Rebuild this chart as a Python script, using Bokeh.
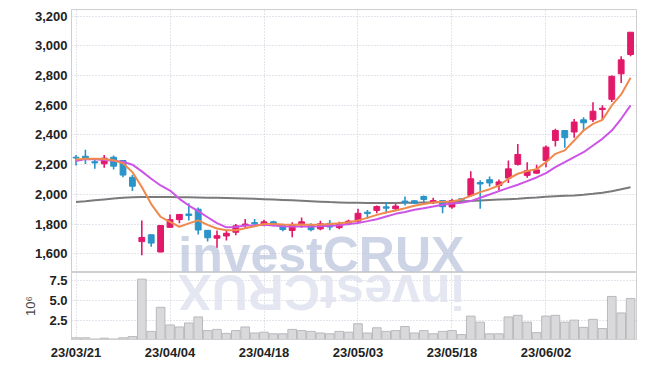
import numpy as np
from bokeh.plotting import figure
from bokeh.layouts import column
from bokeh.models import ColumnDataSource, FixedTicker, Range1d, NumeralTickFormatter
from bokeh.core.properties import value
from bokeh.embed import file_html
from bokeh.resources import INLINE

# ---- data (trading days) ----
dates = ["23/03/21", "23/03/22", "23/03/23", "23/03/24", "23/03/27", "23/03/28", "23/03/29", "23/03/30", "23/03/31",
         "23/04/03", "23/04/04", "23/04/05", "23/04/06", "23/04/07", "23/04/10", "23/04/11", "23/04/12", "23/04/13",
         "23/04/14", "23/04/17", "23/04/18", "23/04/19", "23/04/20", "23/04/21", "23/04/24", "23/04/25", "23/04/26",
         "23/04/27", "23/04/28", "23/05/02", "23/05/03", "23/05/04", "23/05/08", "23/05/09", "23/05/10", "23/05/11",
         "23/05/12", "23/05/15", "23/05/16", "23/05/17", "23/05/18", "23/05/19", "23/05/22", "23/05/23", "23/05/24",
         "23/05/25", "23/05/26", "23/05/30", "23/05/31", "23/06/01", "23/06/02", "23/06/05", "23/06/07", "23/06/08",
         "23/06/09", "23/06/12", "23/06/13", "23/06/14", "23/06/15", "23/06/16"]

open_ = [2250, 2257, 2220, 2206, 2250, 2228, 2115, 1682, 1728, 1612,
         1778, 1830, 1868, 1900, 1758, 1705, 1720, 1745, 1790, 1810,
         1798, 1815, 1790, 1757, 1802, 1792, 1768, 1805, 1776, 1802,
         1820, 1880, 1892, 1916, 1903, 1955, 1957, 1986, 1946, 1958,
         1915, 1970, 1993, 2080, 2099, 2060, 2110, 2202, 2128, 2143,
         2228, 2363, 2430, 2420, 2502, 2503, 2572, 2640, 2812, 2942]
high = [2265, 2300, 2240, 2265, 2262, 2230, 2130, 1825, 1730, 1790,
        1865, 1868, 1940, 1912, 1760, 1757, 1760, 1800, 1835, 1835,
        1830, 1822, 1802, 1813, 1845, 1806, 1822, 1828, 1815, 1830,
        1903, 1895, 1925, 1948, 1935, 1986, 1960, 1993, 1977, 1962,
        1970, 1975, 2155, 2095, 2120, 2100, 2228, 2340, 2217, 2200,
        2330, 2442, 2432, 2507, 2520, 2620, 2600, 2800, 2930, 3092]
low = [2195, 2205, 2172, 2180, 2168, 2115, 2022, 1590, 1648, 1610,
       1775, 1805, 1825, 1730, 1682, 1640, 1690, 1725, 1775, 1790,
       1785, 1785, 1752, 1712, 1775, 1752, 1758, 1758, 1766, 1793,
       1806, 1835, 1873, 1873, 1892, 1925, 1935, 1945, 1936, 1873,
       1903, 1955, 1986, 1903, 2053, 2027, 2076, 2195, 2112, 2139,
       2183, 2323, 2314, 2381, 2426, 2487, 2502, 2622, 2750, 2930]
close = [2245, 2245, 2212, 2244, 2190, 2130, 2055, 1710, 1672, 1790,
         1830, 1865, 1858, 1760, 1708, 1722, 1738, 1788, 1800, 1802,
         1815, 1802, 1763, 1797, 1815, 1762, 1802, 1780, 1802, 1820,
         1873, 1871, 1918, 1907, 1921, 1945, 1940, 1966, 1958, 1917,
         1958, 1965, 2105, 2070, 2077, 2084, 2172, 2269, 2160, 2165,
         2318, 2430, 2382, 2487, 2482, 2560, 2580, 2795, 2906, 3092]

ma_short = [2235, 2240, 2240, 2238, 2230, 2210, 2150, 2050, 1935, 1848,
            1815, 1782, 1805, 1825, 1795, 1770, 1758, 1758, 1772, 1785,
            1800, 1800, 1797, 1795, 1797, 1795, 1797, 1800, 1805, 1812,
            1825, 1842, 1862, 1878, 1892, 1907, 1923, 1935, 1945, 1950,
            1952, 1966, 1990, 2015, 2035, 2060, 2105, 2139, 2157, 2170,
            2217, 2273, 2296, 2363, 2430, 2475, 2502, 2599, 2673, 2785]
ma_mid = [2225, 2238, 2236, 2232, 2226, 2220, 2200, 2155, 2105, 2060,
          2026, 1970, 1925, 1887, 1846, 1806, 1778, 1780, 1790, 1792,
          1795, 1790, 1785, 1783, 1783, 1783, 1785, 1788, 1792, 1800,
          1808, 1820, 1833, 1851, 1869, 1882, 1896, 1907, 1918, 1930,
          1938, 1943, 1955, 1977, 1999, 2022, 2044, 2065, 2089, 2114,
          2143, 2184, 2217, 2251, 2284, 2329, 2374, 2430, 2509, 2599]
ma_long = [1948, 1953, 1960, 1966, 1972, 1977, 1981, 1982, 1982, 1982,
           1982, 1981, 1980, 1979, 1978, 1977, 1976, 1974, 1972, 1970,
           1968, 1966, 1963, 1960, 1957, 1954, 1951, 1948, 1946, 1944,
           1943, 1942, 1942, 1942, 1942, 1943, 1944, 1945, 1946, 1948,
           1950, 1953, 1956, 1959, 1962, 1965, 1968, 1971, 1975, 1979,
           1984, 1987, 1990, 1993, 1998, 2004, 2011, 2021, 2034, 2048]

volume = [400000, 400000, 250000, 350000, 250000, 400000, 550000, 7700000, 1200000, 4200000,
          2000000, 1750000, 2250000, 3000000, 1300000, 1450000, 950000, 1300000, 1750000, 1000000,
          1100000, 900000, 900000, 1450000, 1300000, 1200000, 1000000, 900000, 1200000, 1100000,
          2150000, 1000000, 1650000, 1200000, 1300000, 1800000, 1000000, 1300000, 900000, 1200000,
          1300000, 800000, 3100000, 2350000, 900000, 900000, 3000000, 3200000, 2350000, 1050000,
          3100000, 3200000, 2350000, 2600000, 1700000, 2700000, 1550000, 5550000, 3500000, 5300000]

price_ticks = [1600, 1800, 2000, 2200, 2400, 2600, 2800, 3000, 3200]
volume_ticks = [2500000, 5000000, 7500000]
volume_tick_labels = ["2.5", "5.0", "7.5"]
x_label_step = 10
watermark = "investCRUX"

# ---- styling ----
UP = "#e2196a"
DOWN = "#2b94c8"
GRID = "#c6c9d8"
BORDER = "#cfcfcf"
FONT = "Liberation Sans"
TXT = "#222222"

idx = np.arange(len(dates))
o = np.array(open_); c = np.array(close)
colors = [UP if cc >= oo else DOWN for oo, cc in zip(o, c)]
src = ColumnDataSource(dict(x=idx, open=o, close=c, high=high, low=low,
                            top=np.maximum(o, c), bottom=np.minimum(o, c),
                            color=colors, ma_s=ma_short, ma_m=ma_mid, ma_l=ma_long,
                            vol=volume))

xr = Range1d(-0.48, 59.63)
p_lo, p_hi = 1474, 3245
v_lo, v_hi = 190000, 8530000
x_ticks = list(range(0, len(dates), x_label_step))

# watermark placement (decoration, not data): centre index and the ~10px
# descent of the font expressed in each panel's own units
wm_x = 26.1
wm_size = 50
p_px = (p_hi - p_lo) / 263.0
v_px = (v_hi - v_lo) / 65.0
wm_y_main = p_lo - 10 * p_px
wm_y_refl = v_hi + 8 * v_px


def style_axis(ax):
    ax.major_tick_line_color = None
    ax.minor_tick_line_color = None
    ax.major_tick_out = 0
    ax.major_tick_in = 0
    ax.minor_tick_out = 0
    ax.minor_tick_in = 0
    ax.axis_line_color = BORDER
    ax.major_label_text_font = FONT
    ax.major_label_text_font_style = "bold"
    ax.major_label_text_font_size = "13px"
    ax.major_label_text_color = TXT
    ax.major_label_standoff = 4


def style_grid(fig):
    for g in (fig.xgrid, fig.ygrid):
        g.grid_line_color = GRID
        g.grid_line_dash = "1 2"
        g.grid_line_width = 1


p = figure(width=638, height=272, x_range=xr, y_range=Range1d(p_lo, p_hi),
           output_backend="svg", toolbar_location=None,
           min_border_left=71, min_border_right=2, min_border_top=9, min_border_bottom=0)
p.outline_line_color = BORDER
p.xaxis.visible = False
p.yaxis.ticker = FixedTicker(ticks=price_ticks)
p.yaxis.formatter = NumeralTickFormatter(format="0,0")
style_axis(p.yaxis)
p.xgrid.ticker = FixedTicker(ticks=x_ticks)
style_grid(p)

p.text(x=[wm_x], y=[wm_y_main], text=[watermark], text_align="center", text_baseline="bottom",
       text_font=value(FONT), text_font_style="bold", text_font_size=f"{wm_size}px",
       text_color="#bcc6de", text_alpha=0.75)

p.line("x", "ma_l", source=src, color="#7a7a7a", line_width=2)
p.segment("x", "high", "x", "low", source=src, color="color", line_width=1.6)
p.vbar(x="x", top="top", bottom="bottom", width=0.62, source=src,
       fill_color="color", line_color="color", line_width=1)
p.line("x", "ma_m", source=src, color="#cc55e6", line_width=2)
p.line("x", "ma_s", source=src, color="#ef8a4e", line_width=2)

v = figure(width=638, height=90, x_range=xr, y_range=Range1d(v_lo, v_hi),
           output_backend="svg", toolbar_location=None,
           min_border_left=71, min_border_right=2, min_border_top=0, min_border_bottom=0)
v.outline_line_color = BORDER
# mirrored reflection of the watermark
v.text(x=[wm_x], y=[wm_y_refl], text=[watermark], angle=np.pi, text_align="center",
       text_baseline="bottom", text_font=value(FONT), text_font_style="bold",
       text_font_size=f"{wm_size}px", text_color="#dfe3ee", text_alpha=0.85)
v.vbar(x="x", top="vol", bottom=0, width=0.92, source=src,
       fill_color="#d9d9db", line_color="#b9b9bc", line_width=1)
v.yaxis.ticker = FixedTicker(ticks=volume_ticks)
v.yaxis.major_label_overrides = {t: l for t, l in zip(volume_ticks, volume_tick_labels)}
v.yaxis.axis_label = "10⁶"
v.yaxis.axis_label_text_font = FONT
v.yaxis.axis_label_text_font_style = "normal"
v.yaxis.axis_label_text_font_size = "13px"
v.yaxis.axis_label_text_color = "#444444"
v.yaxis.axis_label_standoff = 8
v.xaxis.ticker = FixedTicker(ticks=x_ticks)
v.xaxis.major_label_overrides = {i: dates[i] for i in x_ticks}
style_axis(v.xaxis)
style_axis(v.yaxis)
v.xaxis.major_label_standoff = 5
v.xgrid.ticker = FixedTicker(ticks=x_ticks)
style_grid(v)

layout = column(p, v, spacing=0)
open("out.html", "w").write(file_html(layout, INLINE))
